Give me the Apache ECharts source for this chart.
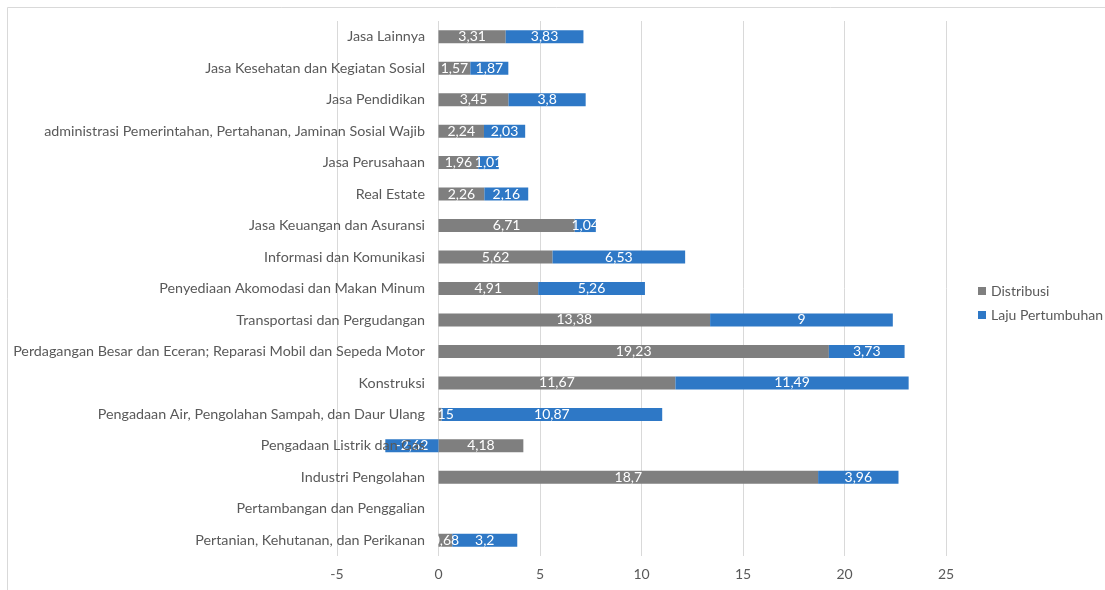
<!DOCTYPE html>
<html>
<head>
<meta charset="utf-8">
<script src="https://cdn.jsdelivr.net/npm/echarts@6/dist/echarts.min.js"></script>
<style>
  html, body { margin: 0; padding: 0; background: #fff; }
  #chart { width: 1105px; height: 590px; }
</style>
</head>
<body>
<div id="chart"></div>
<script>
// kategori dari bawah ke atas
var categories = [
  "Pertanian, Kehutanan, dan Perikanan",
  "Pertambangan dan Penggalian",
  "Industri Pengolahan",
  "Pengadaan Listrik dan Gas",
  "Pengadaan Air, Pengolahan Sampah, dan Daur Ulang",
  "Konstruksi",
  "Perdagangan Besar dan Eceran; Reparasi Mobil dan Sepeda Motor",
  "Transportasi dan Pergudangan",
  "Penyediaan Akomodasi dan Makan Minum",
  "Informasi dan Komunikasi",
  "Jasa Keuangan dan Asuransi",
  "Real Estate",
  "Jasa Perusahaan",
  "administrasi Pemerintahan, Pertahanan, Jaminan Sosial Wajib",
  "Jasa Pendidikan",
  "Jasa Kesehatan dan Kegiatan Sosial",
  "Jasa Lainnya"
];
var distribusi = [0.68, "-", 18.7, 4.18, 0.15, 11.67, 19.23, 13.38, 4.91, 5.62, 6.71, 2.26, 1.96, 2.24, 3.45, 1.57, 3.31];
var lajuPertumbuhan = [3.2, "-", 3.96, -2.62, 10.87, 11.49, 3.73, 9, 5.26, 6.53, 1.04, 2.16, 1.01, 2.03, 3.8, 1.87, 3.83];
var xTicks = [-5, 0, 5, 10, 15, 20, 25];

var font = "Lato, 'Open Sans', sans-serif";

function koma(p) {
  return String(p.value).replace(".", ",");
}

var myChart = echarts.init(document.getElementById("chart"));

var option = {
  animation: false,
  backgroundColor: "#fff",
  textStyle: { fontFamily: font },
  // bingkai luar
  graphic: [
    { type: "line", shape: { x1: 7.5, y1: 7.5, x2: 1105, y2: 7.5 }, style: { stroke: "#d9d9d9", lineWidth: 1 } },
    { type: "line", shape: { x1: 7.5, y1: 7.5, x2: 7.5, y2: 590 }, style: { stroke: "#d9d9d9", lineWidth: 1 } }
  ],
  legend: {
    orient: "vertical",
    left: 973,
    top: 279,
    itemWidth: 8,
    itemHeight: 8,
    itemGap: 10,
    icon: "rect",
    textStyle: { color: "#595959", fontSize: 14, fontFamily: font },
    data: ["Distribusi", "Laju Pertumbuhan"]
  },
  grid: {
    left: 337,
    right: 159,
    top: 21,
    bottom: 34,
    containLabel: false,
    outerBoundsMode: "none"
  },
  xAxis: {
    type: "value",
    min: xTicks[0],
    max: xTicks[xTicks.length - 1],
    interval: 5,
    axisLine: { show: false },
    axisTick: { show: false },
    splitLine: { show: true, lineStyle: { color: "#d9d9d9", width: 1 } },
    axisLabel: { color: "#595959", fontSize: 14, margin: 11, fontFamily: font }
  },
  yAxis: {
    type: "category",
    data: categories,
    z: 3,
    axisLine: { show: false, onZero: false },
    axisTick: { show: false },
    // label kategori ditaruh di dekat garis nol, seperti di Excel
    axisLabel: { color: "#595959", fontSize: 14.3, margin: -88, fontFamily: font }
  },
  series: [
    {
      name: "Distribusi",
      type: "bar",
      stack: "total",
      barWidth: 13,
      data: distribusi,
      itemStyle: { color: "#7f7f7f" },
      label: { show: true, position: "inside", color: "#fff", fontSize: 14, fontFamily: font, formatter: koma }
    },
    {
      name: "Laju Pertumbuhan",
      type: "bar",
      stack: "total",
      barWidth: 13,
      data: lajuPertumbuhan,
      itemStyle: { color: "#2e78c6" },
      label: { show: true, position: "inside", color: "#fff", fontSize: 14, fontFamily: font, formatter: koma }
    }
  ]
};

myChart.setOption(option, true);
</script>
</body>
</html>
